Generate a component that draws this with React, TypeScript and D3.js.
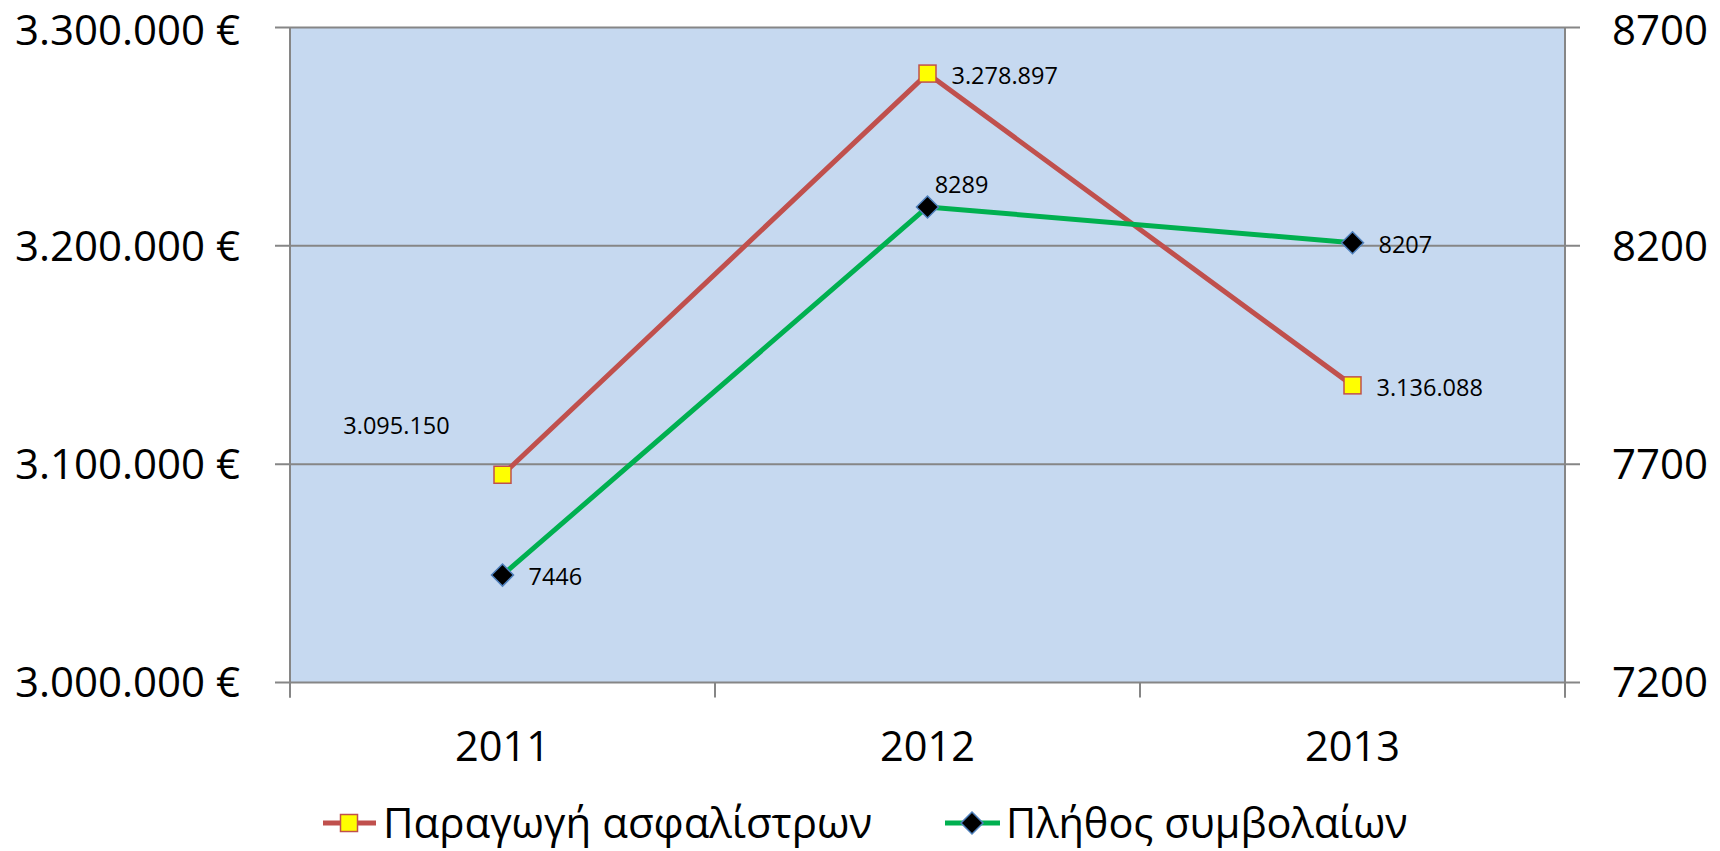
import React from "react";
import * as d3 from "d3";

const years = ["2011", "2012", "2013"];
const premiums = [3095150, 3278897, 3136088];
const contracts = [7446, 8289, 8207];
const leftTicks = [3000000, 3100000, 3200000, 3300000];
const rightTicks = [7200, 7700, 8200, 8700];
const seriesNames = ["Παραγωγή ασφαλίστρων", "Πλήθος συμβολαίων"];

const W = 1720, H = 851;
const M = { left: 290, right: 1565, top: 27.5, bottom: 682.5 };
const FONT = "'Open Sans', sans-serif";
const RED = "#C0504D", GREEN = "#00B050", BLUE = "#4F81BD";

const fmtEuro = (v: number) => d3.format(",.0f")(v).replace(/,/g, ".") + " €";
const fmtDot = (v: number) => d3.format(",.0f")(v).replace(/,/g, ".");

export default function App() {
  const x = d3.scaleBand().domain(years).range([M.left, M.right]);
  const yL = d3.scaleLinear().domain([3000000, 3300000]).range([M.bottom, M.top]);
  const yR = d3.scaleLinear().domain([7200, 8700]).range([M.bottom, M.top]);
  const cx = (d: string) => (x(d) as number) + x.bandwidth() / 2;

  const lineL = d3.line<number>().x((_, i) => cx(years[i])).y((d) => yL(d));
  const lineR = d3.line<number>().x((_, i) => cx(years[i])).y((d) => yR(d));

  const boundaries = [...years.map((d) => x(d) as number), M.right];

  // label offsets [dx, dy, anchor]
  const premLabelOff: [number, number, string][] = [[-106, -49, "middle"], [24, 2, "start"], [24, 2, "start"]];
  const contLabelOff: [number, number, string][] = [[26, 2, "start"], [34, -22, "middle"], [26, 2, "start"]];

  const sq = 17, dm = 11;
  const diamond = (px: number, py: number) => `M${px},${py - dm}L${px + dm},${py}L${px},${py + dm}L${px - dm},${py}Z`;
  const AX = 42;
  const baseline = (yy: number) => Math.max(yy + 0.35 * AX, 45.2);

  return (
    <div style={{ position: "fixed", left: 0, top: 0 }}>
      <svg width={W} height={H} style={{ display: "block", background: "#fff" }}>
        <rect x={M.left} y={M.top} width={M.right - M.left} height={M.bottom - M.top} fill="#C6D9F0" />
        {leftTicks.map((t) => (
          <g key={t}>
            <line x1={M.left - 15} x2={M.right + 15} y1={yL(t)} y2={yL(t)} stroke="#868686" strokeWidth={2} />
            <text x={M.left - 50} y={baseline(yL(t))} textAnchor="end" fontFamily={FONT} fontSize={AX} fill="#000">
              {fmtEuro(t)}
            </text>
          </g>
        ))}
        {rightTicks.map((t) => (
          <text key={t} x={M.right + 47} y={baseline(yR(t))} textAnchor="start" fontFamily={FONT} fontSize={AX} fill="#000">
            {t}
          </text>
        ))}
        <line x1={M.left} x2={M.left} y1={M.top} y2={M.bottom + 15} stroke="#868686" strokeWidth={2} />
        <line x1={M.right} x2={M.right} y1={M.top} y2={M.bottom + 15} stroke="#868686" strokeWidth={2} />
        {boundaries.map((b, i) => (
          <line key={i} x1={b} x2={b} y1={M.bottom} y2={M.bottom + 15} stroke="#868686" strokeWidth={2} />
        ))}
        {years.map((d) => (
          <text key={d} x={cx(d)} y={746} dy="0.35em" textAnchor="middle" fontFamily={FONT} fontSize={41.5} fill="#000">
            {d}
          </text>
        ))}
        <path d={lineL(premiums) as string} fill="none" stroke={RED} strokeWidth={5} strokeLinejoin="round" />
        <path d={lineR(contracts) as string} fill="none" stroke={GREEN} strokeWidth={5} strokeLinejoin="round" />
        {premiums.map((v, i) => (
          <rect key={i} x={cx(years[i]) - sq / 2} y={yL(v) - sq / 2} width={sq} height={sq} fill="#FFFF00" stroke={RED} strokeWidth={1.5} />
        ))}
        {contracts.map((v, i) => (
          <path key={i} d={diamond(cx(years[i]), yR(v))} fill="#000" stroke={BLUE} strokeWidth={1.5} />
        ))}
        {premiums.map((v, i) => (
          <text key={i} x={cx(years[i]) + premLabelOff[i][0]} y={yL(v) + premLabelOff[i][1]} dy="0.35em"
            textAnchor={premLabelOff[i][2] as any} fontFamily={FONT} fontSize={23.5} fill="#000">
            {fmtDot(v)}
          </text>
        ))}
        {contracts.map((v, i) => (
          <text key={i} x={cx(years[i]) + contLabelOff[i][0]} y={yR(v) + contLabelOff[i][1]} dy="0.35em"
            textAnchor={contLabelOff[i][2] as any} fontFamily={FONT} fontSize={23.5} fill="#000">
            {v}
          </text>
        ))}
        {/* legend */}
        <g>
          <line x1={323} x2={376} y1={823} y2={823} stroke={RED} strokeWidth={5} />
          <rect x={349 - sq / 2} y={823 - sq / 2} width={sq} height={sq} fill="#FFFF00" stroke={RED} strokeWidth={1.5} />
          <text x={383} y={823} dy="0.35em" fontFamily={FONT} fontSize={42} fill="#000">{seriesNames[0]}</text>
          <line x1={945} x2={1000} y1={823} y2={823} stroke={GREEN} strokeWidth={5} />
          <path d={diamond(972, 823)} fill="#000" stroke={BLUE} strokeWidth={1.5} />
          <text x={1006} y={823} dy="0.35em" fontFamily={FONT} fontSize={41.5} fill="#000">{seriesNames[1]}</text>
        </g>
      </svg>
    </div>
  );
}
